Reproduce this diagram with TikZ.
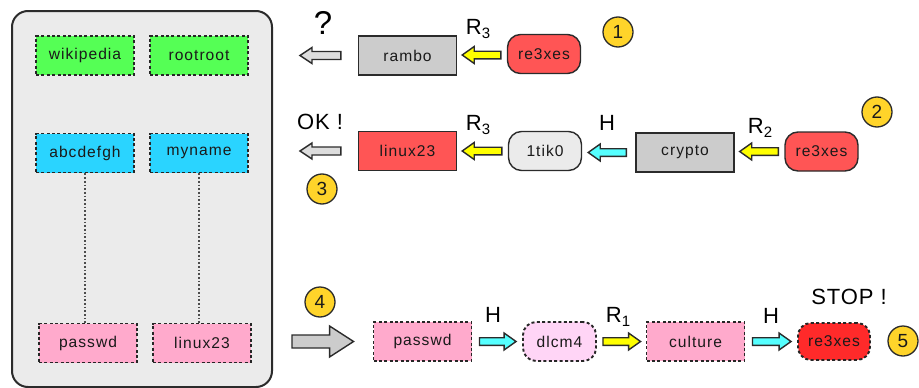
\documentclass[tikz,border=0pt]{standalone}
\usepackage{fontspec}
\setmainfont{Liberation Sans}
\newfontfamily\nodefam[LetterSpace=6.5]{Liberation Sans}
\newfontfamily\labfam[LetterSpace=4]{Liberation Sans}
\usetikzlibrary{calc}
\definecolor{cgreen}{HTML}{55FF55}
\definecolor{cblue}{HTML}{2AD4FF}
\definecolor{cpink}{HTML}{FFAACC}
\definecolor{clpink}{HTML}{FFD5F6}
\definecolor{cred}{HTML}{FF5555}
\definecolor{cbred}{HTML}{FF2A2A}
\definecolor{cgray}{HTML}{CCCCCC}
\definecolor{clgray}{HTML}{EBEBEB}
\definecolor{chol}{HTML}{DDDDDD}
\definecolor{cyel}{HTML}{FFFF00}
\definecolor{ccyan}{HTML}{55FFFF}
\definecolor{cnum}{HTML}{FFD42A}
\definecolor{cline}{HTML}{2B2B2B}
\definecolor{ctext}{HTML}{1A1A1A}
% block arrow: #1 options, #2 from, #3 tip, #4 head length, #5 head half width, #6 shaft half width
\newcommand\barr[6]{%
  \draw[#1] let \p1=#2, \p2=#3, \n1={sign(\x2-\x1)} in
    ({\x1},{\y1+#6pt}) -- ({\x2-(\n1)*#4pt},{\y1+#6pt}) -- ({\x2-(\n1)*#4pt},{\y1+#5pt})
    -- ({\x2},{\y1}) -- ({\x2-(\n1)*#4pt},{\y1-#5pt}) -- ({\x2-(\n1)*#4pt},{\y1-#6pt})
    -- ({\x1},{\y1-#6pt}) -- cycle;}
\newcommand\subs[1]{\raisebox{-0.35ex}{\fontsize{15}{15}\selectfont #1}}
\begin{document}
\begin{tikzpicture}[x=1pt,y=-1pt,
  box/.style={draw=cline, line width=1.4pt, minimum width=98pt, minimum height=39pt,
    inner sep=0pt, text=ctext, font=\nodefam\fontsize{15.6}{15.6}\selectfont},
  rbox/.style={box, rounded corners=13pt, minimum width=73pt},
  dsh/.style={dash pattern=on 3pt off 2.4pt, line width=1.9pt, draw=black!85},
  num/.style={circle, draw=cline, fill=cnum, line width=1.3pt, minimum size=30pt,
    inner sep=0pt, text=ctext, font=\fontsize{19}{19}\selectfont},
  lab/.style={inner sep=0pt, text=black, font=\labfam\fontsize{22}{22}\selectfont},
  arr/.style={draw=cline, line width=1.4pt, line join=miter},
]
\useasboundingbox (0,0) rectangle (919,388);
% left panel
\draw[draw=cline, fill=clgray, line width=2pt, rounded corners=16pt] (12,11) rectangle (272,387);
\node[box, dsh, fill=cgreen] (wiki) at (85,55.5) {wikipedia};
\node[box, dsh, fill=cgreen] (root) at (199,55.5) {rootroot};
\node[box, dsh, fill=cblue] (abc) at (85,153) {abcdefgh};
\node[box, dsh, fill=cblue] (myn) at (199,153) {myname};
\node[box, dsh, fill=cpink] (pw) at (88,343) {passwd};
\node[box, dsh, fill=cpink] (lx) at (202,343) {linux23};
\draw[black!70, line width=1.7pt, dotted] (abc.south) -- (abc.south |- pw.north);
\draw[black!70, line width=1.7pt, dotted] (myn.south) -- (myn.south |- lx.north);

% row 1
\node[box, fill=cgray] (rambo) at (407.5,55.5) {rambo};
\node[rbox, fill=cred] (r1) at (544,54) {re3xes};
\barr{arr, fill=cyel}{($(r1.west)+(-6,1)$)}{($(rambo.east)+(5,0)$)}{12}{8.5}{3.8}
\node[lab] at (478,29) {R\subs{3}};
\coordinate (q1) at (300,55);
\barr{arr, fill=chol}{($(rambo.west)+(-17,0)$)}{(q1)}{12}{8}{4}
\node[lab, font=\fontsize{33}{33}\selectfont] at (323,23) {?};
\node[num] (n1) at (618,32) {1};

% row 2
\node[box, fill=cred] (lx2) at (407.5,151) {linux23};
\node[rbox, fill=clgray] (tik) at (545,151) {1tik0};
\node[box, fill=cgray] (cry) at (685,152.5) {crypto};
\node[rbox, fill=cred] (r2) at (821.5,151.5) {re3xes};
\barr{arr, fill=cyel}{($(tik.west)+(-6,0)$)}{($(lx2.east)+(5,0)$)}{12}{8.5}{3.8}
\barr{arr, fill=ccyan}{($(cry.west)+(-9,0)$)}{($(tik.east)+(6,0)$)}{12}{8.5}{3.8}
\barr{arr, fill=cyel}{($(r2.west)+(-6,0)$)}{($(cry.east)+(5,0)$)}{12}{8.5}{3.8}
\node[lab] at (478,125) {R\subs{3}};
\node[lab] at (607,123) {H};
\node[lab] at (760,128) {R\subs{2}};
\coordinate (q2) at (300,151);
\barr{arr, fill=chol}{($(lx2.west)+(-17,0)$)}{(q2)}{12}{8}{4}
\node[lab] at (320,122) {OK !};
\node[num] (n2) at (877,112) {2};
\node[num] (n3) at (322,189) {3};

% row 3
\node[box, dsh, fill=cpink] (pw3) at (422.5,341.5) {passwd};
\node[rbox, dsh, fill=clpink] (dl) at (559.5,341.5) {dlcm4};
\node[box, dsh, fill=cpink] (cu) at (695.5,341.5) {culture};
\node[rbox, dsh, fill=cbred, minimum width=72pt, minimum height=37pt] (r3) at (834,341.5) {re3xes};
\coordinate (s3) at (292,341.5);
\barr{arr, fill=cgray}{(s3)}{($(pw3.west)+(-19,0)$)}{24}{15.5}{6.5}
\barr{arr, fill=ccyan}{($(pw3.east)+(7,0)$)}{($(dl.west)+(-6,0)$)}{12}{8.5}{3.8}
\barr{arr, fill=cyel}{($(dl.east)+(6,0)$)}{($(cu.west)+(-5,0)$)}{12}{8.5}{3.8}
\barr{arr, fill=ccyan}{($(cu.east)+(7,0)$)}{($(r3.west)+(-6,0)$)}{12}{8.5}{3.8}
\node[lab] at (493,315) {H};
\node[lab] at (618,317) {R\subs{1}};
\node[lab] at (771,316) {H};
\node[lab] at (849,297) {STOP !};
\node[num] (n4) at (320,302) {4};
\node[num] (n5) at (903,341) {5};
\end{tikzpicture}
\end{document}
